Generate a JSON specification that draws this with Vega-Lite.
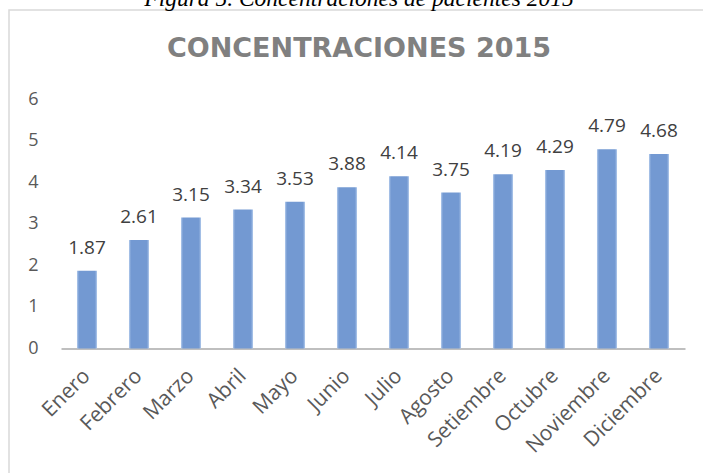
{
  "$schema": "https://vega.github.io/schema/vega-lite/v6.json",
  "width": 700,
  "height": 470,
  "autosize": {"type": "none"},
  "padding": {"left": 9, "top": 10, "right": 0, "bottom": 0},
  "background": "white",
  "config": {"view": {"stroke": "#d9d9d9", "strokeWidth": 1.5}},
  "title": {
    "text": "Figura 5. Concentraciones de pacientes 2015",
    "subtitle": "CONCENTRACIONES 2015",
    "anchor": "middle",
    "frame": "group",
    "offset": -52,
    "font": "Liberation Serif",
    "fontStyle": "italic",
    "fontWeight": "normal",
    "fontSize": 23.5,
    "color": "#000000",
    "subtitleFont": "DejaVu Sans",
    "subtitleFontWeight": "bold",
    "subtitleFontSize": 27,
    "subtitleColor": "#808080",
    "subtitlePadding": 26
  },
  "data": {
    "values": [
      {"mes": "Enero", "valor": 1.87},
      {"mes": "Febrero", "valor": 2.61},
      {"mes": "Marzo", "valor": 3.15},
      {"mes": "Abril", "valor": 3.34},
      {"mes": "Mayo", "valor": 3.53},
      {"mes": "Junio", "valor": 3.88},
      {"mes": "Julio", "valor": 4.14},
      {"mes": "Agosto", "valor": 3.75},
      {"mes": "Setiembre", "valor": 4.19},
      {"mes": "Octubre", "valor": 4.29},
      {"mes": "Noviembre", "valor": 4.79},
      {"mes": "Diciembre", "valor": 4.68}
    ]
  },
  "encoding": {
    "x": {
      "field": "mes",
      "type": "ordinal",
      "sort": null,
      "scale": {"range": [52, 676], "paddingInner": 0.615, "paddingOuter": 0.3075},
      "axis": {
        "title": null,
        "offset": -131.5,
        "domainColor": "#bfbfbf",
        "domainWidth": 2,
        "ticks": false,
        "grid": false,
        "labelAngle": -45,
        "labelAlign": "right",
        "labelBaseline": "middle",
        "labelPadding": 24,
        "labelFont": "Open Sans",
        "labelFontSize": 21,
        "labelColor": "#595959"
      }
    },
    "y": {
      "field": "valor",
      "type": "quantitative",
      "scale": {"domain": [0, 6], "range": [338.5, 89], "nice": false, "zero": true},
      "axis": {
        "title": null,
        "offset": -29,
        "domain": false,
        "ticks": false,
        "grid": false,
        "labelPadding": 0,
        "values": [0, 1, 2, 3, 4, 5, 6],
        "labelFont": "Open Sans",
        "labelFontSize": 18,
        "labelColor": "#595959"
      }
    }
  },
  "layer": [
    {
      "mark": {
        "type": "bar",
        "color": {
          "gradient": "linear",
          "x1": 0, "y1": 0, "x2": 1, "y2": 0,
          "stops": [
            {"offset": 0, "color": "#b3cbec"},
            {"offset": 0.1, "color": "#7399d2"},
            {"offset": 0.9, "color": "#7399d2"},
            {"offset": 1, "color": "#b3cbec"}
          ]
        }
      }
    },
    {
      "mark": {
        "type": "text",
        "baseline": "alphabetic",
        "dy": -17,
        "font": "Open Sans",
        "fontSize": 19,
        "color": "#404040"
      },
      "encoding": {"text": {"field": "valor", "type": "quantitative", "format": ".2f"}}
    }
  ]
}
